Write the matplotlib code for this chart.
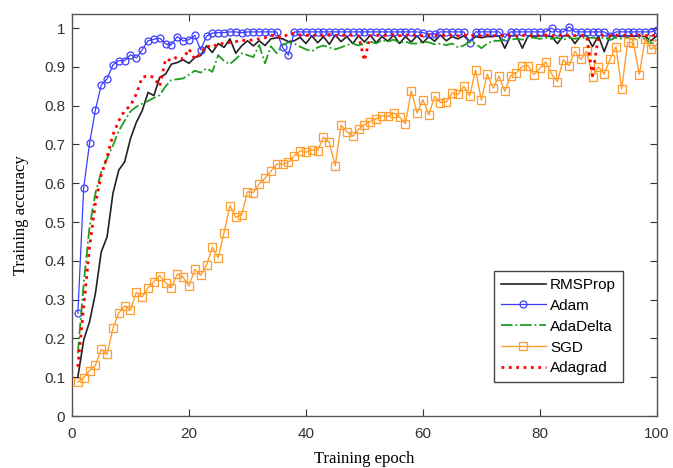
import numpy as np
import matplotlib
matplotlib.use("Agg")
import matplotlib.pyplot as plt

# training accuracy per epoch (epochs 1..100)
epochs = list(range(1, 101))

rmsprop = [
    0.101, 0.196, 0.243, 0.316, 0.423, 0.462, 0.574, 0.634, 0.655, 0.715,
    0.757, 0.787, 0.834, 0.826, 0.873, 0.881, 0.907, 0.911, 0.918, 0.909,
    0.924, 0.929, 0.954, 0.937, 0.960, 0.950, 0.972, 0.935, 0.954, 0.967,
    0.954, 0.967, 0.955, 0.972, 0.975, 0.972, 0.965, 0.967, 0.976, 0.960,
    0.980, 0.962, 0.978, 0.958, 0.982, 0.965, 0.978, 0.960, 0.980, 0.964,
    0.982, 0.962, 0.978, 0.966, 0.982, 0.960, 0.978, 0.964, 0.980, 0.962,
    0.978, 0.966, 0.982, 0.967, 0.978, 0.972, 0.980, 0.965, 0.978, 0.975,
    0.978, 0.978, 0.980, 0.948, 0.980, 0.980, 0.948, 0.980, 0.978, 0.980,
    0.980, 0.978, 0.960, 0.980, 0.980, 0.960, 0.980, 0.980, 0.952, 0.980,
    0.939, 0.980, 0.980, 0.978, 0.980, 0.978, 0.980, 0.978, 0.967, 0.980,
]

adam = [
    0.265, 0.588, 0.703, 0.789, 0.853, 0.869, 0.905, 0.916, 0.916, 0.931,
    0.923, 0.944, 0.967, 0.971, 0.974, 0.959, 0.957, 0.978, 0.967, 0.970,
    0.981, 0.944, 0.979, 0.987, 0.988, 0.988, 0.990, 0.990, 0.988, 0.990,
    0.990, 0.990, 0.990, 0.990, 0.990, 0.950, 0.930, 0.990, 0.990, 0.990,
    0.990, 0.990, 0.990, 0.990, 0.990, 0.990, 0.990, 0.990, 0.990, 0.990,
    0.990, 0.990, 0.990, 0.990, 0.990, 0.990, 0.990, 0.990, 0.990, 0.988,
    0.985, 0.985, 0.990, 0.990, 0.990, 0.990, 0.990, 0.962, 0.990, 0.990,
    0.990, 0.990, 0.990, 0.976, 0.990, 0.990, 0.990, 0.990, 0.990, 0.990,
    0.990, 1.000, 0.990, 0.990, 1.003, 0.990, 0.990, 0.990, 0.990, 0.990,
    0.990, 0.980, 0.990, 0.990, 0.990, 0.990, 0.990, 0.990, 0.990, 0.995,
]

adadelta = [
    0.162, 0.342, 0.488, 0.574, 0.630, 0.664, 0.697, 0.735, 0.761, 0.785,
    0.797, 0.805, 0.812, 0.820, 0.827, 0.850, 0.866, 0.868, 0.870, 0.880,
    0.890, 0.885, 0.896, 0.887, 0.930, 0.915, 0.907, 0.920, 0.935, 0.930,
    0.925, 0.956, 0.909, 0.953, 0.935, 0.956, 0.963, 0.960, 0.952, 0.945,
    0.940, 0.950, 0.955, 0.950, 0.945, 0.950, 0.956, 0.960, 0.955, 0.960,
    0.965, 0.960, 0.969, 0.965, 0.970, 0.962, 0.965, 0.960, 0.960, 0.965,
    0.963, 0.958, 0.960, 0.956, 0.960, 0.950, 0.955, 0.965, 0.960, 0.948,
    0.960, 0.967, 0.967, 0.970, 0.970, 0.972, 0.970, 0.975, 0.975, 0.972,
    0.975, 0.972, 0.975, 0.970, 0.975, 0.972, 0.975, 0.975, 0.975, 0.972,
    0.975, 0.970, 0.975, 0.972, 0.975, 0.970, 0.975, 0.972, 0.960, 0.970,
]

sgd = [
    0.087, 0.099, 0.117, 0.131, 0.172, 0.159, 0.226, 0.266, 0.284, 0.274,
    0.319, 0.307, 0.331, 0.346, 0.362, 0.344, 0.331, 0.366, 0.358, 0.335,
    0.378, 0.363, 0.389, 0.435, 0.408, 0.473, 0.542, 0.512, 0.518, 0.578,
    0.576, 0.598, 0.613, 0.631, 0.649, 0.649, 0.654, 0.671, 0.683, 0.680,
    0.686, 0.684, 0.719, 0.705, 0.645, 0.749, 0.733, 0.721, 0.739, 0.751,
    0.759, 0.766, 0.774, 0.772, 0.781, 0.771, 0.753, 0.838, 0.781, 0.815,
    0.776, 0.824, 0.808, 0.809, 0.833, 0.829, 0.850, 0.825, 0.892, 0.814,
    0.881, 0.845, 0.876, 0.837, 0.877, 0.885, 0.901, 0.903, 0.880, 0.896,
    0.913, 0.881, 0.862, 0.918, 0.903, 0.940, 0.919, 0.940, 0.875, 0.900,
    0.881, 0.920, 0.952, 0.843, 0.963, 0.962, 0.880, 0.972, 0.945, 0.958,
]

adagrad = [
    0.127, 0.282, 0.436, 0.548, 0.621, 0.668, 0.725, 0.761, 0.787, 0.800,
    0.830, 0.873, 0.877, 0.873, 0.850, 0.920, 0.916, 0.926, 0.920, 0.946,
    0.920, 0.935, 0.954, 0.950, 0.960, 0.960, 0.963, 0.965, 0.969, 0.967,
    0.970, 0.972, 0.975, 0.982, 0.978, 0.975, 0.985, 0.986, 0.982, 0.982,
    0.980, 0.982, 0.980, 0.983, 0.980, 0.982, 0.980, 0.982, 0.980, 0.916,
    0.980, 0.982, 0.980, 0.982, 0.983, 0.980, 0.982, 0.980, 0.982, 0.980,
    0.982, 0.980, 0.982, 0.980, 0.982, 0.980, 0.982, 0.980, 0.982, 0.980,
    0.982, 0.980, 0.982, 0.980, 0.982, 0.980, 0.982, 0.980, 0.982, 0.980,
    0.982, 0.980, 0.982, 0.980, 0.982, 0.980, 0.982, 0.978, 0.877, 0.978,
    0.982, 0.980, 0.982, 0.980, 0.982, 0.980, 0.982, 0.980, 0.982, 0.980,
]

yticks = [0, 0.1, 0.2, 0.3, 0.4, 0.5, 0.6, 0.7, 0.8, 0.9, 1]
ytick_labels = ["0", "0.1", "0.2", "0.3", "0.4", "0.5", "0.6", "0.7", "0.8", "0.9", "1"]
xticks = [0, 20, 40, 60, 80, 100]

plt.rcParams["font.family"] = ["Liberation Sans", "DejaVu Sans"]

fig = plt.figure(figsize=(6.73, 4.68), dpi=100)
ax = fig.add_axes([0.107, 0.111, 0.869, 0.859])

ax.plot(epochs, rmsprop, color="#222222", lw=1.2, label="RMSProp")
ax.plot(epochs, adam, color="#3c3cff", lw=0.9, marker="o", markersize=5,
        markerfacecolor="none", markeredgewidth=0.9, label="Adam")
ax.plot(epochs, adadelta, color="#1f9e1f", lw=1.3, linestyle="-.", label="AdaDelta")
ax.plot(epochs, sgd, color="#ff9d2e", lw=1.0, marker="s", markersize=5.5,
        markerfacecolor="none", markeredgewidth=0.9, label="SGD")
ax.plot(epochs, adagrad, color="#ff0000", lw=2.0, linestyle=":", label="Adagrad")

ax.set_xlim(0, 100)
ax.set_ylim(0, 1.036)
ax.set_xticks(xticks)
ax.set_yticks(yticks)
ax.set_yticklabels(ytick_labels)
ax.tick_params(direction="in", top=True, right=True, length=5, width=0.8,
               labelsize=11, colors="#333333")
ax.tick_params(axis="x", pad=8)
ax.tick_params(axis="y", pad=5)
for s in ax.spines.values():
    s.set_color("#555555")
    s.set_linewidth(1.0)

ax.set_xlabel("Training epoch", family=["Liberation Serif", "DejaVu Serif"],
              fontsize=12, labelpad=7)
ax.set_ylabel("Training accuracy", family=["Liberation Serif", "DejaVu Serif"],
              fontsize=12, labelpad=11)

leg = ax.legend(loc="lower right", bbox_to_anchor=(0.955, 0.065), fontsize=11,
                fancybox=False, handlelength=2.9, borderpad=0.45,
                labelspacing=0.45, handletextpad=0.3, framealpha=1)
leg.get_frame().set_edgecolor("#444444")
leg.get_frame().set_linewidth(1.0)

fig.savefig("out.png", dpi=100)
